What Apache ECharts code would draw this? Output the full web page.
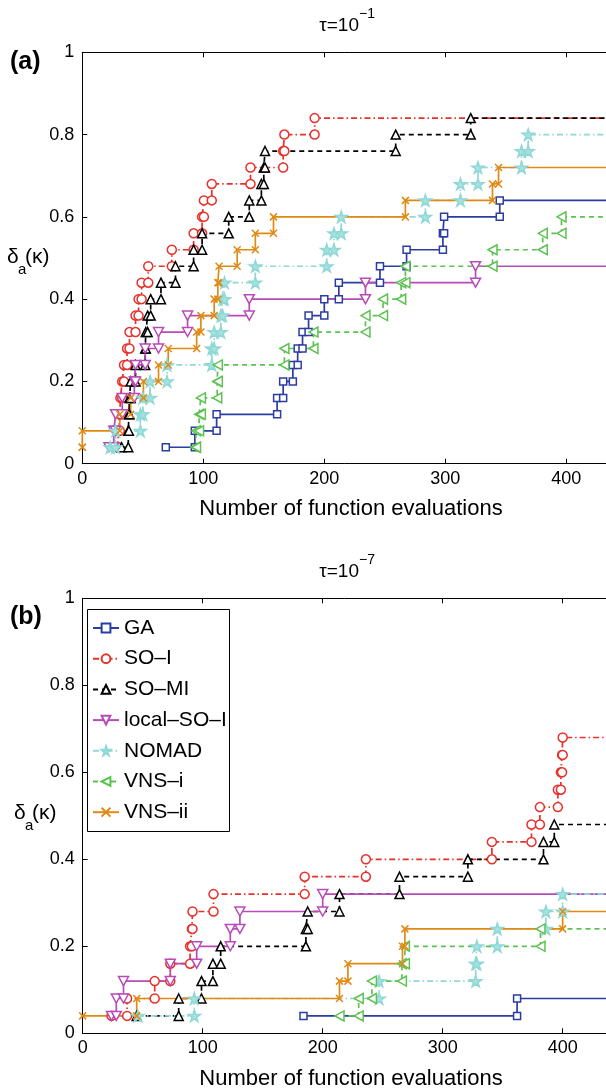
<!DOCTYPE html>
<html>
<head>
<meta charset="utf-8">
<script src="https://cdn.jsdelivr.net/npm/echarts@6/dist/echarts.min.js"></script>
<style>
html,body{margin:0;padding:0;background:#fff;}
#chart{width:606px;height:1091px;}
</style>
</head>
<body>
<div id="chart"></div>
<script>
// ---------- data ----------
const names = ['GA', 'SO–I', 'SO–MI', 'local–SO–I', 'NOMAD', 'VNS–i', 'VNS–ii'];
const xTicks = [0, 100, 200, 300, 400];
const yTicks = [0, 0.2, 0.4, 0.6, 0.8, 1];
const X_MAX_A = 432.8;   // visible right edge of panel (a) (figure is cropped)
const X_MAX_B = 436.1;   // visible right edge of panel (b)
const X_END = 500;

// panel (a), tau = 1e-1 : x where each level starts, and the level
const aGA_x = [69, 93, 111, 161, 166, 174, 178, 182, 187, 200, 212, 246, 268, 298, 299, 345];
const aGA_y = [0.04, 0.08, 0.12, 0.16, 0.20, 0.24, 0.28, 0.32, 0.36, 0.40, 0.44, 0.48, 0.52, 0.56, 0.60, 0.64];
const aSOI_x = [29, 30, 31, 31.5, 33, 34.5, 37, 39, 44, 46.5, 49, 54.5, 74, 92, 99, 100.5, 107, 139, 166, 167, 192];
const aSOI_y = [0.04, 0.08, 0.12, 0.16, 0.20, 0.24, 0.28, 0.32, 0.36, 0.40, 0.44, 0.48, 0.52, 0.56, 0.60, 0.64, 0.68, 0.72, 0.76, 0.80, 0.84];
const aSOMI_x = [32.5, 38, 38.5, 39, 40, 44, 52, 52.5, 54, 56.5, 65, 77, 92, 99, 121, 138, 148, 150, 151, 259, 321];
const aSOMI_y = [0.04, 0.08, 0.12, 0.16, 0.20, 0.24, 0.28, 0.32, 0.36, 0.40, 0.44, 0.48, 0.52, 0.56, 0.60, 0.64, 0.68, 0.72, 0.76, 0.80, 0.84];
const aLOC_x = [22, 26, 27.5, 33, 43, 44, 52, 63, 87, 138, 234, 325];
const aLOC_y = [0.04, 0.08, 0.12, 0.16, 0.20, 0.24, 0.28, 0.32, 0.36, 0.40, 0.44, 0.48];
const aNOM_x = [23, 27.5, 48, 50, 56, 70, 107, 109, 114.5, 116, 117.5, 143, 202, 208, 214, 283.5, 312.5, 327, 363, 368.5];
const aNOM_y = [0.04, 0.08, 0.12, 0.16, 0.20, 0.24, 0.28, 0.32, 0.36, 0.40, 0.44, 0.48, 0.52, 0.56, 0.60, 0.64, 0.68, 0.72, 0.76, 0.80];
const aVNSi_x = [93.5, 94, 96.5, 98, 111.5, 112, 167, 191, 234, 248.5, 263.5, 267, 339, 380.5, 396];
const aVNSi_y = [0.04, 0.08, 0.12, 0.16, 0.20, 0.24, 0.28, 0.32, 0.36, 0.40, 0.44, 0.48, 0.52, 0.56, 0.60];
const aVNSii_x = [0, 0, 31, 40, 50.5, 63, 71, 94.5, 98, 109, 112, 113, 128, 143, 158, 267, 339, 344];
const aVNSii_y = [0.04, 0.08, 0.12, 0.16, 0.20, 0.24, 0.28, 0.32, 0.36, 0.40, 0.44, 0.48, 0.52, 0.56, 0.60, 0.64, 0.68, 0.72];

// panel (b), tau = 1e-7
const bGA_x = [184, 362];
const bGA_y = [0.04, 0.08];
const bSOI_x = [24, 37, 60, 73, 89.5, 91, 91.5, 109, 185, 236, 341, 374, 381, 396, 398.5, 399.5, 400];
const bSOI_y = [0.04, 0.08, 0.12, 0.16, 0.20, 0.24, 0.28, 0.32, 0.36, 0.40, 0.44, 0.48, 0.52, 0.56, 0.60, 0.64, 0.68];
const bSOMI_x = [45, 80, 99, 108.5, 115, 186, 187.5, 214, 264, 321, 384, 393];
const bSOMI_y = [0.04, 0.08, 0.12, 0.16, 0.20, 0.24, 0.28, 0.32, 0.36, 0.40, 0.44, 0.48];
const bLOC_x = [24, 28, 34, 73, 95, 123, 131, 200];
const bLOC_y = [0.04, 0.08, 0.12, 0.16, 0.20, 0.24, 0.28, 0.32];
const bNOM_x = [46, 93, 247, 327.5, 328.5, 345.5, 386, 400];
const bNOM_y = [0.04, 0.08, 0.12, 0.16, 0.20, 0.24, 0.28, 0.32];
const bVNSi_x = [214, 230, 241, 266, 268.5, 381.5];
const bVNSi_y = [0.04, 0.08, 0.12, 0.16, 0.20, 0.24];
const bVNSii_x = [0, 45, 214, 221, 266.5, 268.5, 400];
const bVNSii_y = [0.04, 0.08, 0.12, 0.16, 0.20, 0.24, 0.28];

// ---------- styles ----------
const FONT = '"Liberation Sans", Arial, Helvetica, sans-serif';
const STAR = 'path://M50,0L61,35L98,35L68,57L79,91L50,70L21,91L32,57L2,35L39,35Z';
const styles = [
  {color: '#2b3da0', type: 'solid', symbol: 'rect', size: 7, fill: '#ffffff'},
  {color: '#e8302a', type: [6, 3, 1.5, 3], symbol: 'circle', size: 9, fill: '#ffffff'},
  {color: '#000000', type: [5, 4], symbol: 'triangle', size: 9, fill: '#ffffff'},
  {color: '#b84bb8', type: 'solid', symbol: 'path://M0,0L10,0L5,9Z', size: 10, fill: '#ffffff'},
  {color: '#8fd8d6', type: [6, 3, 1.5, 3], symbol: STAR, size: 12, fill: '#a6e2df'},
  {color: '#5cc251', type: [5, 4], symbol: 'path://M0,5L9,0L9,10Z', size: 10, fill: '#ffffff'},
  {color: '#e08a14', type: 'solid', symbol: 'path://M0,0L10,10M10,0L0,10', size: 7, fill: 'none'}
];

function steps(xs, ys) {
  const pts = [];
  for (let i = 0; i < xs.length; i++) {
    pts.push([xs[i], ys[i]]);
    if (i < xs.length - 1) pts.push([xs[i + 1], ys[i]]);
    else pts.push({value: [X_END, ys[i]], symbol: 'none'});
  }
  return pts;
}

const panelA = [[aGA_x, aGA_y], [aSOI_x, aSOI_y], [aSOMI_x, aSOMI_y], [aLOC_x, aLOC_y], [aNOM_x, aNOM_y], [aVNSi_x, aVNSi_y], [aVNSii_x, aVNSii_y]];
const panelB = [[bGA_x, bGA_y], [bSOI_x, bSOI_y], [bSOMI_x, bSOMI_y], [bLOC_x, bLOC_y], [bNOM_x, bNOM_y], [bVNSi_x, bVNSi_y], [bVNSii_x, bVNSii_y]];

function makeSeries(panel, xi, yi) {
  return panel.map((d, k) => {
    const s = styles[k];
    return {
      type: 'line', name: names[k], xAxisIndex: xi, yAxisIndex: yi,
      data: steps(d[0], d[1]),
      symbol: s.symbol, symbolSize: s.size, symbolKeepAspect: true,
      lineStyle: {color: s.color, width: 1.7, type: s.type},
      itemStyle: {color: s.fill, borderColor: s.color, borderWidth: 1.5},
      emphasis: {disabled: true},
      animation: false, clip: true
    };
  });
}

function xAxis(gi, top, max) {
  return {
    type: 'value', gridIndex: gi, position: top ? 'top' : 'bottom',
    min: 0, max: max, interval: 100,
    splitLine: {show: false},
    axisLine: {show: true, onZero: false, lineStyle: {color: '#000', width: 1}},
    axisTick: {show: true, inside: true, length: 5, customValues: xTicks, lineStyle: {color: '#000', width: 1}},
    axisLabel: {show: !top, color: '#000', fontSize: 18, fontFamily: FONT, margin: 6, customValues: xTicks,
      formatter: function (v) { return (v % 100 === 0) ? String(v) : ''; }}
  };
}
function yAxis(gi) {
  return {
    type: 'value', gridIndex: gi, min: yTicks[0], max: yTicks[yTicks.length - 1], interval: 0.2,
    splitLine: {show: false},
    axisLine: {show: true, onZero: false, lineStyle: {color: '#000', width: 1}},
    axisTick: {show: true, inside: true, length: 5, lineStyle: {color: '#000', width: 1}},
    axisLabel: {color: '#000', fontSize: 18, fontFamily: FONT, margin: 8}
  };
}

function txt(x, y, text, size, opts) {
  return {
    type: 'text', z: 10, silent: true,
    style: Object.assign({x: x, y: y, text: text, fill: '#000', fontSize: size, fontFamily: FONT,
      align: 'left', verticalAlign: 'middle'}, opts || {})
  };
}

const graphics = [
  // panel a titles
  txt(359, 26, 'τ=10', 19, {align: 'right'}),
  txt(359, 14, '−1', 14),
  txt(10, 62, '(a)', 25, {fontWeight: 'bold'}),
  txt(351, 509, 'Number of function evaluations', 22, {align: 'center'}),
  txt(7, 257, 'δ', 21),
  txt(18, 270, 'a', 15),
  txt(25, 257, '(κ)', 21),
  // panel b titles
  txt(359, 572, 'τ=10', 19, {align: 'right'}),
  txt(359, 560, '−7', 14),
  txt(10, 617, '(b)', 25, {fontWeight: 'bold'}),
  txt(351, 1079, 'Number of function evaluations', 22, {align: 'center'}),
  txt(14, 813, 'δ', 21),
  txt(25, 826, 'a', 15),
  txt(32, 813, '(κ)', 21),
  // legend box
  {type: 'rect', z: 3, silent: true, shape: {x: 87.5, y: 609.5, width: 142, height: 222},
   style: {fill: '#fff', stroke: '#000', lineWidth: 1}}
];

const chart = echarts.init(document.getElementById('chart'), null, {renderer: 'canvas'});
chart.setOption({
  backgroundColor: '#fff',
  animation: false,
  grid: [
    {left: 82.3, top: 52.3, right: 0, height: 411.4, containLabel: false},
    {left: 82.7, top: 598.3, right: 0, height: 435, containLabel: false}
  ],
  xAxis: [xAxis(0, false, X_MAX_A), xAxis(0, true, X_MAX_A), xAxis(1, false, X_MAX_B), xAxis(1, true, X_MAX_B)],
  yAxis: [yAxis(0), yAxis(1)],
  legend: {
    data: names, orient: 'vertical', left: 92, top: 617.5, padding: 0,
    itemWidth: 26, itemHeight: 11, itemGap: 9.7, z: 5,
    textStyle: {fontSize: 21, fontFamily: FONT, color: '#000', lineHeight: 21},
    selectedMode: false
  },
  graphic: graphics,
  series: makeSeries(panelA, 0, 0).concat(makeSeries(panelB, 2, 1))
});
</script>
</body>
</html>
